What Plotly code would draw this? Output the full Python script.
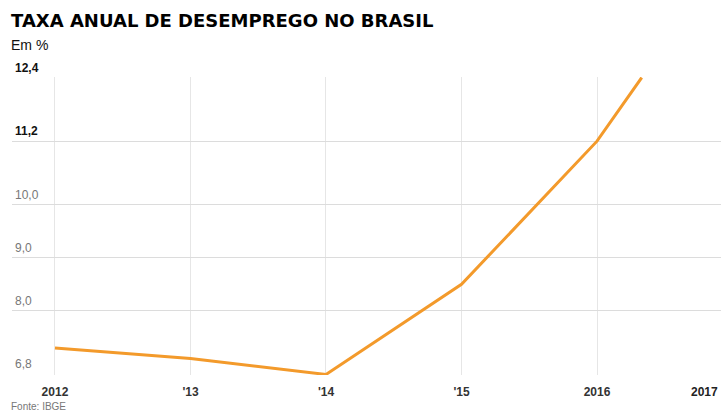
import plotly.graph_objects as go

# Annual unemployment rate, Brazil (IBGE)
years = [2012, 2013, 2014, 2015, 2016, 2016.33]
rate = [7.3, 7.1, 6.8, 8.5, 11.2, 12.4]

x_ticks = [2012, 2013, 2014, 2015, 2016]
x_labels = ["2012", "'13", "'14", "'15", "2016"]

y_ticks = [12.4, 11.2, 10.0, 9.0, 8.0, 6.8]
y_labels = ["<b>12,4</b>", "<b>11,2</b>", "10,0", "9,0", "8,0", "6,8"]
y_colors = ["#111111", "#111111", "#777777", "#777777", "#777777", "#777777"]

fig = go.Figure()
fig.add_trace(go.Scatter(
    x=years, y=rate, mode="lines",
    line=dict(color="#F39A2B", width=3),
    hoverinfo="skip", showlegend=False,
    cliponaxis=False,
))

# y labels sit just above their gridlines, at the left edge of the plot
y_annotations = [
    dict(text=t, xref="paper", yref="y", x=0.0, y=v, xanchor="left", yanchor="bottom",
         xshift=1, yshift=1, showarrow=False, font=dict(size=12, color=c))
    for v, t, c in zip(y_ticks, y_labels, y_colors)
]

fig.update_layout(
    width=721, height=412,
    margin=dict(l=12, r=0, t=77, b=37),
    paper_bgcolor="white", plot_bgcolor="white",
    font=dict(family="Liberation Sans, Arial, sans-serif"),
    xaxis=dict(
        range=[2011.683, 2016.915],
        tickvals=x_ticks, ticktext=x_labels,
        showgrid=True, gridcolor="#e6e6e6", gridwidth=1,
        zeroline=False, showline=False, ticks="",
        tickfont=dict(size=12, color="#333333", weight="bold"),
        ticklabelstandoff=8,
    ),
    yaxis=dict(
        range=[6.79, 12.41],
        tickvals=y_ticks, showticklabels=False,
        showgrid=True, gridcolor="#dcdcdc", gridwidth=1,
        zeroline=False, showline=False, ticks="",
    ),
    annotations=y_annotations + [
        dict(text="<b>TAXA ANUAL DE DESEMPREGO NO BRASIL</b>", xref="paper", yref="paper",
             x=-0.004, y=1.0, yanchor="bottom", xanchor="left", yshift=44,
             showarrow=False, font=dict(size=18, color="#000000", family="DejaVu Sans, sans-serif")),
        dict(text="Em %", xref="paper", yref="paper",
             x=-0.004, y=1.0, yanchor="bottom", xanchor="left", yshift=22,
             showarrow=False, font=dict(size=14, color="#111111")),
        dict(text="<b>2017</b>", xref="paper", yref="paper",
             x=1.0, y=0, xanchor="right", yanchor="top", yshift=-8, xshift=-1,
             showarrow=False, font=dict(size=12, color="#222222")),
        dict(text="Fonte: IBGE", xref="paper", yref="paper",
             x=-0.004, y=0, xanchor="left", yanchor="top", yshift=-24,
             showarrow=False, font=dict(size=10, color="#777777")),
    ],
)

fig.write_html("out.html")
